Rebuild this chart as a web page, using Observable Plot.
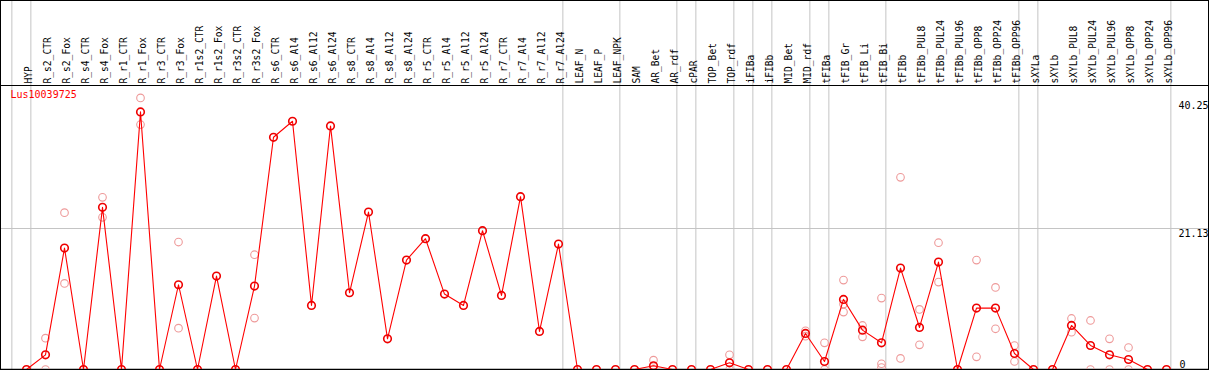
<!DOCTYPE html>
<html>
<head>
<meta charset="utf-8">
<script src="https://cdn.jsdelivr.net/npm/d3@7"></script>
<script src="https://cdn.jsdelivr.net/npm/@observablehq/plot@0.6"></script>
<style>
  html, body { margin: 0; padding: 0; background: #fff; }
  #chart svg { display: block; outline: 1px solid #000; outline-offset: -1px; }
</style>
</head>
<body>
<div id="chart"></div>
<script>
const seriesName = "Lus10039725";

const categories = [
  "HYP", "R_s2_CTR", "R_s2_Fox", "R_s4_CTR", "R_s4_Fox", "R_r1_CTR", "R_r1_Fox",
  "R_r3_CTR", "R_r3_Fox", "R_r1s2_CTR", "R_r1s2_Fox", "R_r3s2_CTR", "R_r3s2_Fox",
  "R_s6_CTR", "R_s6_Al4", "R_s6_Al12", "R_s6_Al24", "R_s8_CTR", "R_s8_Al4", "R_s8_Al12",
  "R_s8_Al24", "R_r5_CTR", "R_r5_Al4", "R_r5_Al12", "R_r5_Al24", "R_r7_CTR", "R_r7_Al4",
  "R_r7_Al12", "R_r7_Al24", "LEAF_N", "LEAF_P", "LEAF_NPK", "SAM", "AR_Bet", "AR_rdf",
  "cPAR", "TOP_Bet", "TOP_rdf", "iFIBa", "iFIBb", "MID_Bet", "MID_rdf", "tFIBa",
  "tFIB_Gr", "tFIB_Li", "tFIB_Bi", "tFIBb", "tFIBb_PUL8", "tFIBb_PUL24", "tFIBb_PUL96",
  "tFIBb_OPP8", "tFIBb_OPP24", "tFIBb_OPP96", "sXYLa", "sXYLb", "sXYLb_PUL8",
  "sXYLb_PUL24", "sXYLb_PUL96", "sXYLb_OPP8", "sXYLb_OPP24", "sXYLb_OPP96"
];

// mean expression per sample (line)
const means = [
  0, 2.2, 18.2, 0, 24.3, 0, 38.6, 0, 12.7, 0, 14.0, 0, 12.5,
  34.8, 37.2, 9.6, 36.5, 11.5, 23.6, 4.6, 16.4, 19.6, 11.3, 9.6, 20.8, 11.1, 25.9, 5.7, 18.8,
  0, 0, 0, 0, 0.55, 0, 0, 0, 1.0, 0, 0, 0, 5.4, 1.2,
  10.5, 5.9, 4.0, 15.2, 6.3, 16.1, 0, 9.2, 9.2, 2.4,
  0, 0, 6.6, 3.6, 2.2, 1.5, 0, 0
];

// individual replicates (null = not shown)
const repA = [
  null, 4.7, 23.5, null, 25.8, null, 40.7, null, 19.1, null, null, null, 17.2,
  null, null, null, null, null, null, null, null, null, null, null, null, null, null, null, null,
  null, null, null, null, 1.4, null, null, null, 2.2, null, null, null, 5.8, 4.0,
  13.4, 6.6, 10.7, 28.8, 9.0, 19.0, null, 16.4, 12.3, 3.6,
  null, null, 7.65, 7.35, 4.6, 3.3, null, null
];
const repB = [
  null, 0, 12.9, null, 22.8, null, 36.7, null, 6.2, null, null, null, 7.7,
  null, null, null, null, null, null, null, null, null, null, null, null, null, null, null, null,
  null, null, null, null, 0, null, null, null, 0, null, null, null, 5.0, 0,
  8.6, 4.9, 0.86, 1.66, 3.7, 13.1, null, 1.9, 6.1, 1.2,
  null, null, 5.6, 0, 0, 0, null, null
];
const repC = [
  null, null, null, null, null, null, null, null, null, null, null, null, null,
  null, null, null, null, null, null, null, null, null, null, null, null, null, null, null, null,
  null, null, null, null, null, null, null, null, null, null, null, null, null, null,
  9.8, null, 0.3, null, null, null, null, null, null, null,
  null, null, null, null, null, null, null, null
];

// group separators: drawn after these column numbers (0 = before first)
const groupBreaks = [0, 1, 29, 32, 35, 36, 38, 39, 40, 42, 43, 46, 53, 54, 61];

const yMax = 42.26;
const yTickTop = [40.25, 21.13];
const yTickBottom = [0];
const gridValues = [21.13];

// ---- layout ----
const W = 1209, H = 370;
const step = 19, firstX = 26;
const mTop = 87, mBottom = 1;
const xDomain = [1 - firstX / step, 1 + (W - firstX) / step];
const yTopAll = yMax * (H - mBottom) / (H - mBottom - mTop);

const meanRows = means.map((v, i) => ({col: i + 1, v}));
const repRows = [];
[repA, repB, repC].forEach(arr => arr.forEach((v, i) => { if (v != null) repRows.push({col: i + 1, v}); }));

const font = "DejaVu Sans Mono, Liberation Mono, monospace";

const chart = Plot.plot({
  width: W,
  height: H,
  marginTop: mTop,
  marginBottom: mBottom,
  marginLeft: 0,
  marginRight: 0,
  x: {type: "linear", domain: xDomain, axis: null},
  y: {type: "linear", domain: [0, yMax], axis: null},
  style: {fontFamily: font, fontSize: "9.6px", background: "#fff", overflow: "hidden"},
  marks: [
    Plot.ruleY(gridValues, {stroke: "#c4c4c4", strokeWidth: 1}),
    Plot.ruleX(groupBreaks, {x: d => d + 0.23, y1: 0, y2: yTopAll, stroke: "#c4c4c4", strokeWidth: 1}),
    Plot.ruleY([yMax], {stroke: "#000", strokeWidth: 1.2, dy: -2}),
    Plot.ruleY([0], {stroke: "#000", strokeWidth: 1.5}),
    Plot.text(categories, {
      x: (d, i) => i + 1, text: d => d, frameAnchor: "top",
      rotate: -90, textAnchor: "start", dy: -4, dx: -1.5, fill: "#000",
      fontFamily: font, fontSize: 9.6
    }),
    Plot.dot(repRows, {x: "col", y: "v", r: 3.8, stroke: "#ee9a9a", strokeWidth: 1.1, fill: "none"}),
    Plot.line(meanRows, {x: "col", y: "v", stroke: "#ff0000", strokeWidth: 1.1}),
    Plot.dot(meanRows, {x: "col", y: "v", r: 3.8, stroke: "#ee0000", strokeWidth: 1.6, fill: "none"}),
    Plot.text([seriesName], {
      frameAnchor: "top-left", text: d => d, dx: 10, dy: 3, textAnchor: "start", lineAnchor: "top",
      fill: "#ff0000", fontFamily: font, fontSize: 10
    }),
    Plot.text(yTickTop, {
      y: d => d, text: d => d.toFixed(2), frameAnchor: "right", textAnchor: "start",
      dx: -31, dy: 1, lineAnchor: "top", fill: "#000", fontFamily: font, fontSize: 10
    }),
    Plot.text(yTickBottom, {
      y: d => d, text: d => String(d), frameAnchor: "right", textAnchor: "start",
      dx: -30, dy: -2, lineAnchor: "bottom", fill: "#000", fontFamily: font, fontSize: 10
    })
  ]
});

document.getElementById("chart").appendChild(chart);
</script>
</body>
</html>
